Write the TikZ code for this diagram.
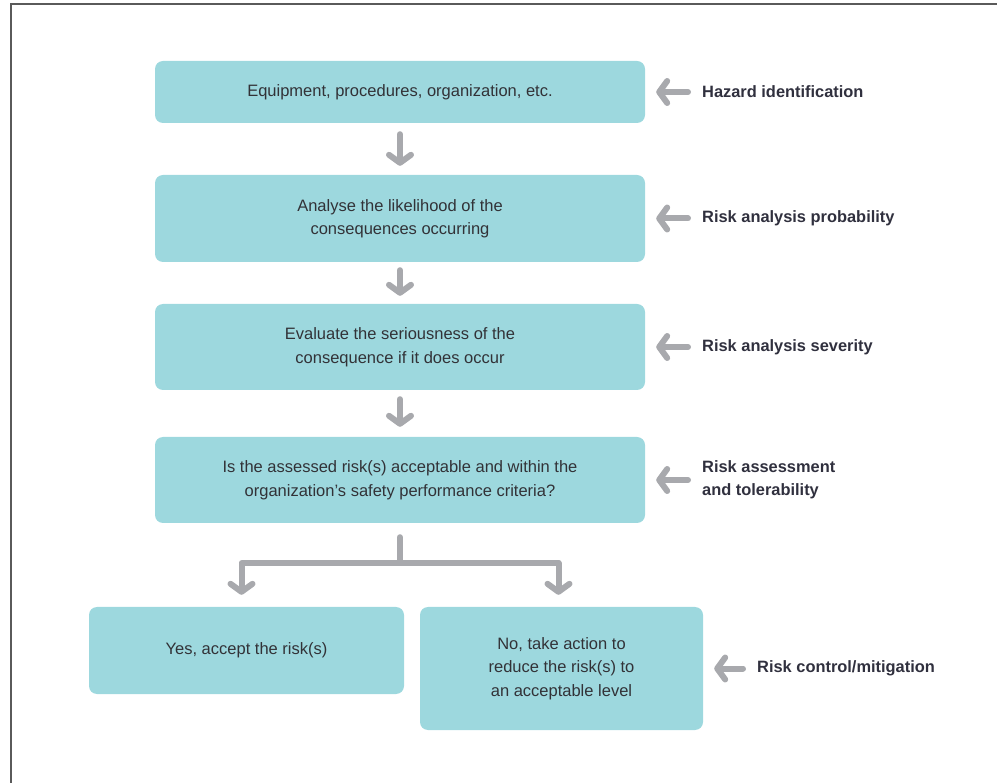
\documentclass[tikz,border=0pt]{standalone}
\usepackage{fontspec}
\setmainfont{Liberation Sans}
\usepackage{tikz}
\usetikzlibrary{arrows.meta,positioning,calc}
\definecolor{boxteal}{RGB}{157,216,222}
\definecolor{arrgray}{RGB}{168,169,173}
\definecolor{boxtext}{RGB}{50,50,55}
\definecolor{labtext}{RGB}{48,48,62}
\definecolor{framegray}{RGB}{90,90,90}

\begin{document}
\begin{tikzpicture}[x=1pt,y=-1pt,
  stepbox/.style={fill=boxteal,rounded corners=8pt,align=center,text=boxtext,
    font=\fontsize{16.5}{23.5}\selectfont,inner sep=0pt},
  sidelab/.style={anchor=west,align=left,inner sep=0pt,text=labtext,
    font=\fontsize{16.4}{23}\selectfont\bfseries},
  arr/.style={draw=arrgray,line width=6pt,line cap=round,line join=round,
    -{Straight Barb[length=8pt,width=22pt,round]}}]
\clip (0,0) rectangle (997,783);
% frame (only top and left edges visible)
\draw[framegray,line width=1.6pt] (11,800) -- (11,4) -- (1010,4);
% main steps
\node[stepbox,minimum width=490pt,minimum height=62pt] (ident) at (400,92) {Equipment, procedures, organization, etc.};
\node[stepbox,minimum width=490pt,minimum height=87pt] (prob) at (400,218.5) {Analyse the likelihood of the\\consequences occurring};
\node[stepbox,minimum width=490pt,minimum height=86pt] (sev) at (400,347) {Evaluate the seriousness of the\\consequence if it does occur};
\node[stepbox,minimum width=490pt,minimum height=86pt] (assess) at (400,480) {Is the assessed risk(s) acceptable and within the\\organization's safety performance criteria?};
% outcomes
\node[stepbox,minimum width=315pt,minimum height=87pt] (yes) at (246.5,650.5) {Yes, accept the risk(s)};
\node[stepbox,minimum width=283pt,minimum height=123pt] (no) at (561.5,668.5) {No, take action to\\reduce the risk(s) to\\an acceptable level};
% side labels
\node[sidelab] (lident) at (702,92) {Hazard identification};
\node[sidelab] (lprob) at (702,218.5) {Risk analysis probability};
\node[sidelab] (lsev) at (702,347) {Risk analysis severity};
\node[sidelab] (lassess) at (702,480) {Risk assessment\\and tolerability};
\node[sidelab] (lno) at (757,668.5) {Risk control/mitigation};
% down arrows
\draw[arr,shorten <=11pt,shorten >=9pt] (ident) -- (prob);
\draw[arr,shorten <=8pt,shorten >=8pt] (prob) -- (sev);
\draw[arr,shorten <=9pt,shorten >=10pt] (sev) -- (assess);
% branch to outcomes
\coordinate (fork) at (400,563);
\draw[arrgray,line width=6pt,line cap=round] ($(assess.south)+(0,14)$) -- (fork);
\draw[arr,shorten >=12pt] (fork) -| ($(yes.north)+(-5,0)$);
\draw[arr,shorten >=12pt] (fork) -| ($(no.north)+(-3,0)$);
% side arrows
\foreach \lab/\stp in {lident/ident,lprob/prob,lsev/sev,lassess/assess,lno/no}
  \draw[arr,shorten <=14pt,shorten >=11pt] (\lab.west) -- (\stp.east);
\end{tikzpicture}
\end{document}
